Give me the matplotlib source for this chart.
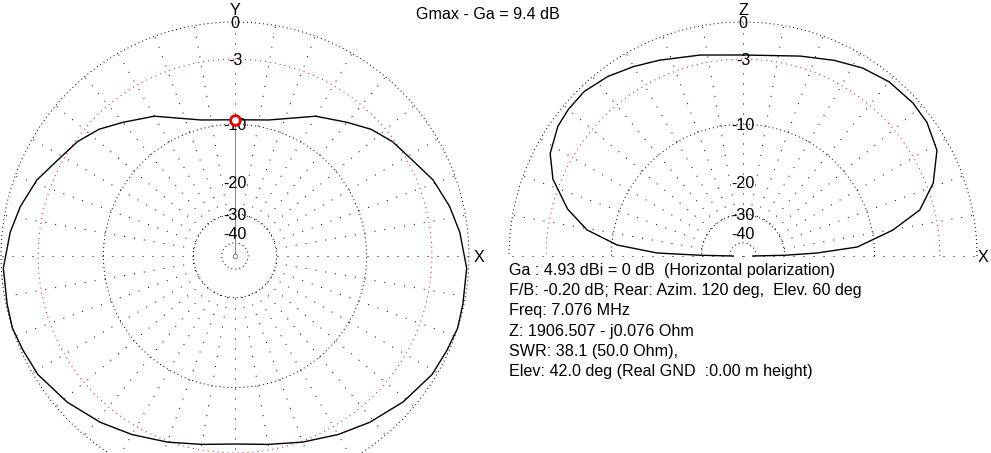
import numpy as np
import matplotlib
matplotlib.use("Agg")
import matplotlib.pyplot as plt

plt.rcParams['font.family'] = ['Liberation Sans', 'DejaVu Sans']

# ---------------- data ----------------
TITLE = "Gmax - Ga = 9.4 dB"
INFO_LINES = [
    "Ga : 4.93 dBi = 0 dB  (Horizontal polarization)",
    "F/B: -0.20 dB; Rear: Azim. 120 deg,  Elev. 60 deg",
    "Freq: 7.076 MHz",
    "Z: 1906.507 - j0.076 Ohm",
    "SWR: 38.1 (50.0 Ohm),",
    "Elev: 42.0 deg (Real GND  :0.00 m height)",
]
RING_DB = [0, -10, -30, -50]
REF_RING_DB = -3
LABEL_DB = [0, -3, -10, -20, -30, -40]
LABEL_TEXT = ["0", "-3", "-10", "-20", "-30", "-40"]
SPOKE_STEP_DEG = 10

# azimuth pattern (half, symmetric), angle clockwise from Y axis
AZ_DEG = [0, 14, 30, 40, 47, 54, 62, 69, 77, 84, 93, 102, 108, 114, 121,
          131, 141, 150, 160, 170, 180]
AZ_DB = [-9.4, -8.9, -6.45, -5.1, -4.0, -3.2, -2.55, -1.7, -1.05, -0.6, -0.15,
         -0.08, 0.0, -0.15, -0.3, -0.87, -1.55, -2.2, -2.9, -3.5, -3.8]

# elevation pattern, angle counter-clockwise from X (right horizon)
EL_DEG = [0, 1, 2.3, 4.5, 9.8, 14.6, 21, 28.6, 36, 42, 50, 57.5, 65, 74, 90,
          102, 113, 120, 127, 134, 140, 145, 152, 158, 165, 170.5, 175, 178,
          179, 180]
EL_DB = [-55, -30, -20, -12.4, -7.5, -4.3, -2.4, -1.0, -0.5, -0.4, -0.5, -0.85,
         -1.4, -2.05, -2.64, -2.26, -1.65, -1.17, -0.7, -0.4, -0.45, -0.6, -1.2,
         -2.3, -4.4, -6.8, -10.7, -17.4, -29.5, -55]

GA_AZ_DEG = 0
GA_DB = -9.4

# ---------------- helpers ----------------
W, H = 991, 453


def to_r(db):
    return 10 ** (np.asarray(db, dtype=float) / 40.0)


def fxy(px, py):
    return px / W, 1 - py / H


def polar_axes(cx, cy, R):
    rect = [(cx - R) / W, (H - cy - R) / H, 2 * R / W, 2 * R / H]
    ax = fig.add_axes(rect, projection='polar')
    ax.set_ylim(0, 1)
    ax.set_axis_off()
    ax.patch.set_alpha(0)
    return ax


DOT = dict(color='black', lw=0.72, ls=(0, (1, 3)), clip_on=False)
SPOKE = dict(color='black', lw=0.72, ls=(0, (1, 9)), clip_on=False)
RED = dict(color='#d01010', lw=0.72, ls=(0, (1, 4)), clip_on=False)
FONT = 11.6

fig = plt.figure(figsize=(W / 100, H / 100), dpi=100)
fig.patch.set_facecolor('white')

# ---------------- azimuth plot ----------------
axL = polar_axes(235, 256, 234)
axL.set_theta_zero_location('N')
axL.set_theta_direction(-1)

th = np.linspace(0, 2 * np.pi, 1441)
for db in RING_DB:
    axL.plot(th, np.full_like(th, to_r(db)), **DOT)
axL.plot(th, np.full_like(th, to_r(REF_RING_DB)), **RED)
for a in range(0, 360, SPOKE_STEP_DEG):
    axL.plot([np.radians(a)] * 2, [to_r(-30), 1.0], **SPOKE)

az_full = np.array(AZ_DEG + [360 - a for a in reversed(AZ_DEG[:-1])])
db_full = np.array(AZ_DB + list(reversed(AZ_DB[:-1])))
axL.plot(np.radians(az_full), to_r(db_full), color='black', lw=1.0,
         clip_on=False, solid_joinstyle='round')

axL.plot([np.radians(GA_AZ_DEG)] * 2, [0, to_r(GA_DB)], color='#8a8a8a', lw=0.8)
axL.plot([0], [0], 'o', ms=3.2, mfc='white', mec='#8a8a8a', mew=0.8, clip_on=False)
axL.plot([np.radians(GA_AZ_DEG)], [to_r(GA_DB)], 'o', ms=7, mfc='white',
         mec='#ee0000', mew=2.0, clip_on=False, zorder=5)

for db, t in zip(LABEL_DB, LABEL_TEXT):
    axL.text(0, to_r(db), t, ha='center', va='center_baseline', fontsize=FONT,
             zorder=4)

# ---------------- elevation plot ----------------
axR = polar_axes(743, 256, 234)
axR.set_theta_zero_location('E')
axR.set_theta_direction(1)

th2 = np.linspace(0, np.pi, 721)
for db in RING_DB:
    axR.plot(th2, np.full_like(th2, to_r(db)), **DOT)
axR.plot(th2, np.full_like(th2, to_r(REF_RING_DB)), **RED)
for a in range(0, 181, SPOKE_STEP_DEG):
    r0 = 0.0 if a in (0, 180) else to_r(-30)
    axR.plot([np.radians(a)] * 2, [r0, 1.0], **SPOKE)

axR.plot(np.radians(EL_DEG), to_r(EL_DB), color='black', lw=1.0,
         clip_on=False, solid_joinstyle='round')

for db, t in zip(LABEL_DB, LABEL_TEXT):
    axR.text(np.pi / 2, to_r(db), t, ha='center', va='center_baseline',
             fontsize=FONT, zorder=4)

# ---------------- texts ----------------
fig.text(*fxy(488, 19), TITLE, ha='center', va='baseline', fontsize=FONT)
fig.text(*fxy(235, 15), "Y", ha='center', va='baseline', fontsize=FONT)
fig.text(*fxy(743, 15), "Z", ha='center', va='baseline', fontsize=FONT)
fig.text(*fxy(479, 262), "X", ha='center', va='baseline', fontsize=FONT)
fig.text(*fxy(983, 262), "X", ha='center', va='baseline', fontsize=FONT)

base = 275
for i, line in enumerate(INFO_LINES):
    fig.text(*fxy(509, base + i * 20.2), line, ha='left', va='baseline',
             fontsize=FONT)

fig.savefig("out.png", dpi=100, facecolor='white')
